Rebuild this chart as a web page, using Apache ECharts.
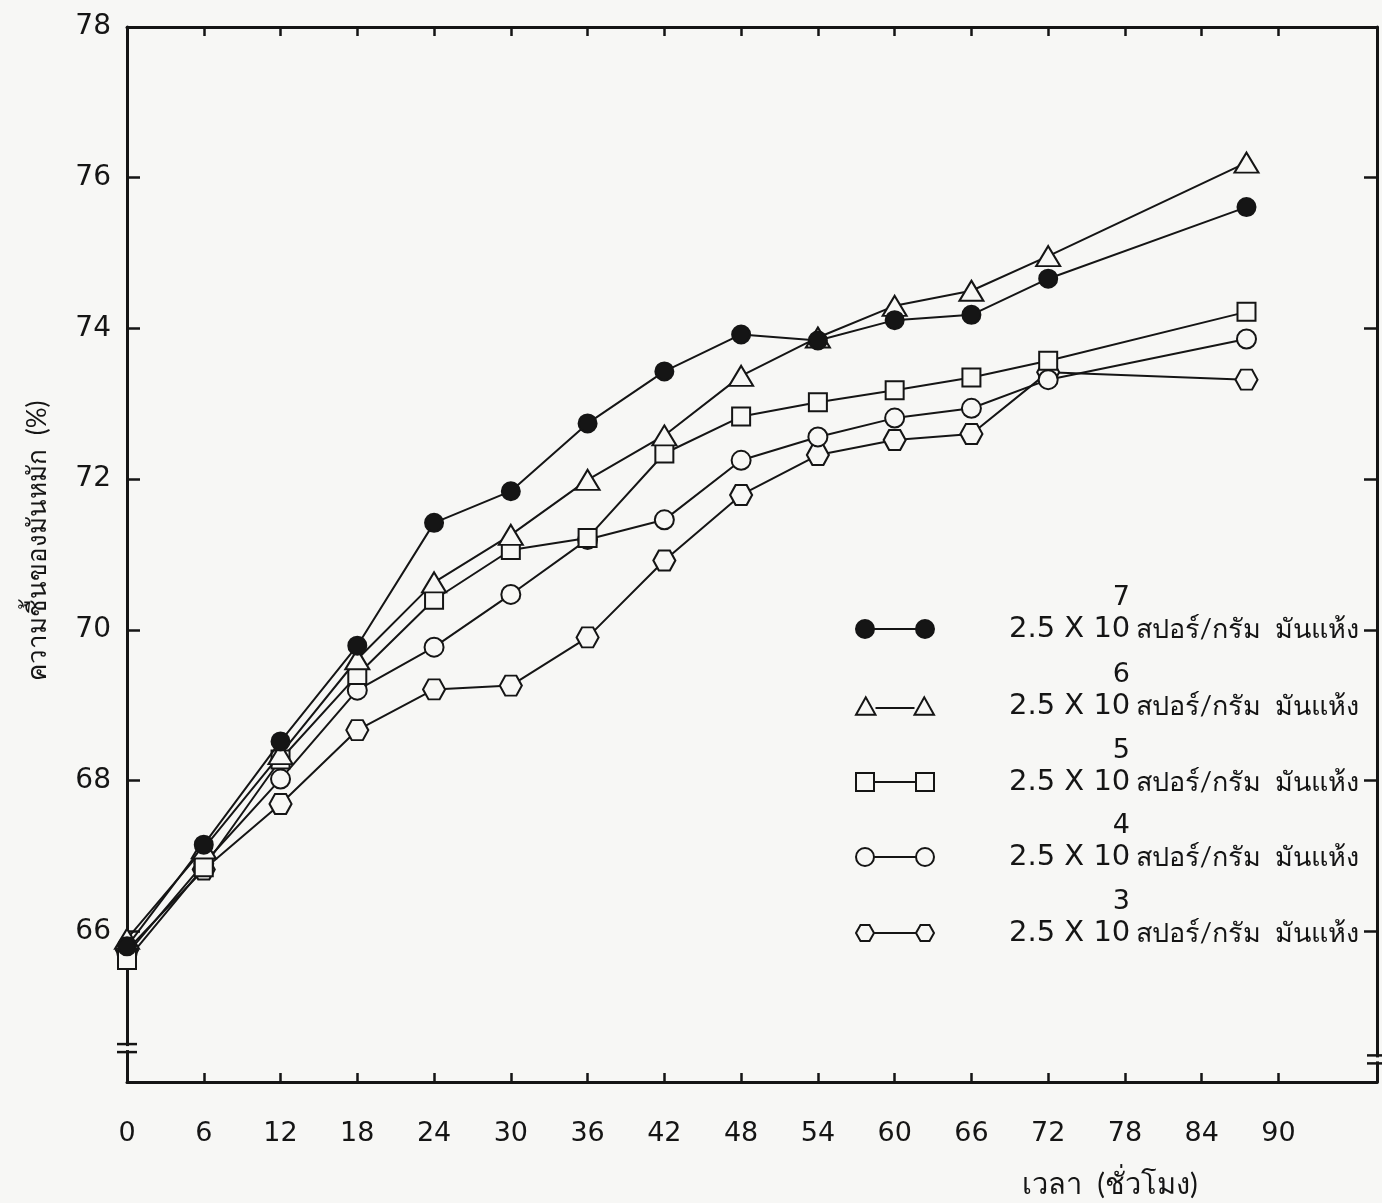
<!DOCTYPE html>
<html><head><meta charset="utf-8">
<script src="https://cdn.jsdelivr.net/npm/echarts@6/dist/echarts.min.js"></script>
<style>html,body{margin:0;padding:0;background:#f7f7f5}#c{width:1382px;height:1203px}</style>
</head><body><div id="c"></div>
<script>
// ---- data ----
const hours = [0, 6, 12, 18, 24, 30, 36, 42, 48, 54, 60, 66, 72, 87.5];
const dose1e7 = [65.80, 67.15, 68.52, 69.79, 71.42, 71.84, 72.74, 73.43, 73.92, 73.84, 74.11, 74.18, 74.66, 75.61];
const dose1e6 = [65.90, 67.10, 68.35, 69.61, 70.63, 71.26, 71.99, 72.58, 73.37, 73.88, 74.30, 74.50, 74.96, 76.20];
const dose1e5 = [65.62, 66.85, 68.28, 69.40, 70.40, 71.06, 71.22, 72.34, 72.83, 73.02, 73.18, 73.35, 73.57, 74.22];
const dose1e4 = [65.70, 66.90, 68.02, 69.20, 69.77, 70.47, 71.20, 71.46, 72.25, 72.56, 72.81, 72.94, 73.32, 73.86];
const dose1e3 = [65.75, 66.82, 67.69, 68.67, 69.21, 69.26, 69.90, 70.92, 71.79, 72.32, 72.52, 72.60, 73.42, 73.32];
const xTickValues = [0, 6, 12, 18, 24, 30, 36, 42, 48, 54, 60, 66, 72, 78, 84, 90];
const yTickValues = [66, 68, 70, 72, 74, 76, 78];
const exponents = ['7', '6', '5', '4', '3'];
const legendPrefix = '2.5 X 1';
const legendZero = '0';
const legendUnit = 'สปอร์/กรัม  มันแห้ง';
const xAxisName = 'เวลา  (ชั่วโมง)';
const yAxisName = 'ความชื้นของมันหมัก  (%)';

// ---- styling ----
const INK = '#151515';
const PAPER = '#f7f7f5';
const FONT = "'DejaVu Sans', Lato, 'Noto Sans', sans-serif";
const TFONT = "Lato, 'Noto Sans', sans-serif";
const HEX = 'path://M-10,0 L-5,-8.66 L5,-8.66 L10,0 L5,8.66 L-5,8.66 Z';
const seriesValues = [dose1e7, dose1e6, dose1e5, dose1e4, dose1e3];
const markers = [
  {symbol: 'circle', size: 18, fill: INK},
  {symbol: 'triangle', size: [24, 20], fill: PAPER},
  {symbol: 'rect', size: 18, fill: PAPER},
  {symbol: 'circle', size: 19, fill: PAPER},
  {symbol: HEX, size: [22, 20], fill: PAPER}
];
const legendIcons = [
  'path://M1,10a9,9 0 1,0 18,0a9,9 0 1,0 -18,0Z M61,10a9,9 0 1,0 18,0a9,9 0 1,0 -18,0Z M19,10 L61,10',
  'path://M0,19 L10,1 L20,19Z M60,19 L70,1 L80,19Z M20,12 L60,12',
  'path://M1,1 H19 V19 H1Z M61,1 H79 V19 H61Z M19,10 H61',
  'path://M1,10a9,9 0 1,0 18,0a9,9 0 1,0 -18,0Z M61,10a9,9 0 1,0 18,0a9,9 0 1,0 -18,0Z M19,10 L61,10',
  'path://M1,10 L5.5,2 L14.5,2 L19,10 L14.5,18 L5.5,18Z M61,10 L65.5,2 L74.5,2 L79,10 L74.5,18 L65.5,18Z M19,10 H61'
];
const legendCenters = [629, 706, 782, 857, 933];
const names = exponents.map(e => legendPrefix + legendZero + '^' + e + ' ' + legendUnit);

const series = seriesValues.map((vals, i) => ({
  name: names[i],
  type: 'line',
  data: hours.map((h, j) => [h, vals[j]]),
  symbol: markers[i].symbol,
  symbolSize: markers[i].size,
  showAllSymbol: true,
  z: 10 - i,
  lineStyle: {color: INK, width: 2},
  itemStyle: {color: markers[i].fill, borderColor: INK, borderWidth: 2},
  emphasis: {disabled: true},
  animation: false
}));

const rich = {
  a: {fontFamily: FONT, fontSize: 29, color: INK, lineHeight: 90, verticalAlign: 'middle', padding: [0, 0, 0, 70]},
  z: {fontFamily: FONT, fontSize: 29, color: INK, lineHeight: 90, verticalAlign: 'middle', width: 9, align: 'left'},
  s: {fontFamily: FONT, fontSize: 27, color: INK, lineHeight: 28, verticalAlign: 'top', width: 1, align: 'center'},
  b: {fontFamily: TFONT, fontSize: 27, color: INK, lineHeight: 90, verticalAlign: 'middle', padding: [0, 0, 0, 14]}
};

const legends = names.map((n, i) => ({
  left: 855,
  top: legendCenters[i] - 45,
  padding: 0,
  orient: 'vertical',
  selectedMode: false,
  itemWidth: 78,
  itemHeight: 20,
  data: [{name: n, icon: legendIcons[i], itemStyle: {color: markers[i].fill, borderColor: INK, borderWidth: 2}}],
  formatter: () => '{a|' + legendPrefix + '}{z|' + legendZero + '}{s|' + exponents[i] + '}{b|' + legendUnit + '}',
  textStyle: {rich: rich}
}));

const chart = echarts.init(document.getElementById('c'), null, {renderer: 'canvas'});
const axisLineStyle = {color: INK, width: 3};
chart.setOption({
  backgroundColor: PAPER,
  animation: false,
  grid: {left: 127, right: 5, top: 27, bottom: 121, containLabel: false, outerBoundsMode: 'none'},
  legend: legends,
  xAxis: [{
    type: 'value', min: 0, max: 97.7, interval: 6, position: 'bottom',
    name: xAxisName, nameLocation: 'middle', nameGap: 88,
    nameTextStyle: {fontFamily: TFONT, fontSize: 29, color: INK, padding: [0, 0, 0, 716]},
    axisLine: {show: true, onZero: false, lineStyle: axisLineStyle},
    axisTick: {show: true, inside: true, length: 9, lineStyle: {color: INK, width: 2.5}, customValues: xTickValues},
    axisLabel: {show: true, margin: 38, fontFamily: FONT, fontSize: 27, color: INK, customValues: xTickValues,
      formatter: v => (v > 90 ? '' : String(v))},
    splitLine: {show: false}
  }, {
    type: 'value', min: 0, max: 97.7, interval: 6, position: 'top',
    axisLine: {show: true, onZero: false, lineStyle: axisLineStyle},
    axisTick: {show: true, inside: true, length: 9, lineStyle: {color: INK, width: 2.5}, customValues: xTickValues},
    axisLabel: {show: false},
    splitLine: {show: false}
  }],
  yAxis: [{
    type: 'value', min: 64, max: 78, interval: 2, position: 'left',
    name: yAxisName, nameLocation: 'middle', nameGap: 76,
    nameTextStyle: {fontFamily: TFONT, fontSize: 26, color: INK, padding: [0, 0, 0, 28]},
    axisLine: {show: true, onZero: false, lineStyle: axisLineStyle},
    axisTick: {show: true, inside: true, length: 13, lineStyle: {color: INK, width: 2.5}, customValues: yTickValues},
    axisLabel: {show: true, margin: 16, fontFamily: FONT, fontSize: 28, color: INK, customValues: yTickValues,
      formatter: v => (v < 66 ? '' : String(v))},
    splitLine: {show: false}
  }, {
    type: 'value', min: 64, max: 78, interval: 2, position: 'right',
    axisLine: {show: true, onZero: false, lineStyle: axisLineStyle},
    axisTick: {show: true, inside: true, length: 13, lineStyle: {color: INK, width: 2.5}, customValues: yTickValues},
    axisLabel: {show: false},
    splitLine: {show: false}
  }],
  series: series
});

// axis break marks ("=") on the left and right value axes
function breakMark(p) {
  return [
    {type: 'rect', shape: {x: p[0] - 3, y: p[1] - 2, width: 6, height: 4}, style: {fill: PAPER}, z: 100},
    {type: 'line', shape: {x1: p[0] - 10, y1: p[1] - 4, x2: p[0] + 10, y2: p[1] - 4}, style: {stroke: INK, lineWidth: 2.5}, z: 101},
    {type: 'line', shape: {x1: p[0] - 10, y1: p[1] + 4, x2: p[0] + 10, y2: p[1] + 4}, style: {stroke: INK, lineWidth: 2.5}, z: 101}
  ];
}
const pl = chart.convertToPixel({xAxisIndex: 0, yAxisIndex: 0}, [0, 64.45]);
const pr = chart.convertToPixel({xAxisIndex: 0, yAxisIndex: 0}, [97.7, 64.3]);
chart.setOption({graphic: {elements: breakMark(pl).concat(breakMark(pr))}});
</script></body></html>
